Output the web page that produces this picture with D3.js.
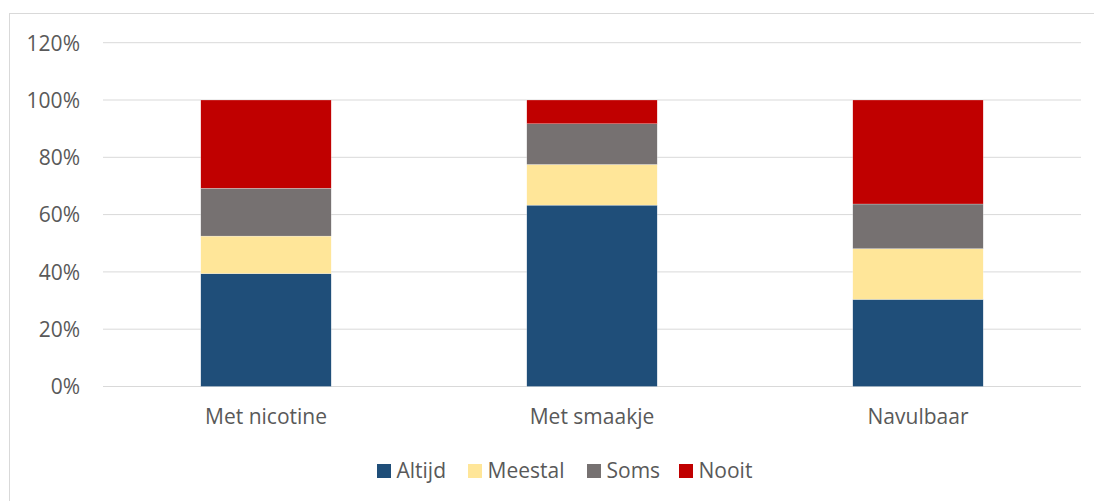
<!DOCTYPE html>
<html>
<head>
<meta charset="utf-8">
<script src="https://cdn.jsdelivr.net/npm/d3@7"></script>
<style>
  html, body { margin: 0; padding: 0; background: #fff; }
  svg { display: block; }
  text { font-family: "Open Sans", "Liberation Sans", sans-serif; fill: #595959; }
</style>
</head>
<body>
<svg id="chart" width="1094" height="501"></svg>
<script>
// Share of answers per product type (percent)
const categories = ["Met nicotine", "Met smaakje", "Navulbaar"];
const seriesNames = ["Altijd", "Meestal", "Soms", "Nooit"];
const altijd  = [39.4, 63.3, 30.4];
const meestal = [13.1, 14.2, 17.7];
const soms    = [16.7, 14.2, 15.6];
const nooit   = [30.8, 8.3, 36.3];
const yTicks = [0, 20, 40, 60, 80, 100, 120];
const colors = ["#1f4e79", "#ffe699", "#767171", "#c00000"];

const rows = categories.map((c, i) => ({
  category: c,
  Altijd: altijd[i], Meestal: meestal[i], Soms: soms[i], Nooit: nooit[i]
}));

const svg = d3.select("#chart");
const W = 1094, H = 501;
const plot = { left: 103, right: 1081, top: 42.7, bottom: 386.5 };
const FONT = 21;

// Chart frame (left and top edges visible)
svg.append("rect")
  .attr("x", 9.5).attr("y", 13.5)
  .attr("width", W + 10).attr("height", H + 10)
  .attr("fill", "none").attr("stroke", "#d9d9d9").attr("stroke-width", 1);

const x = d3.scaleBand().domain(categories).range([plot.left, plot.right]).paddingInner(0.6).paddingOuter(0.3);
const y = d3.scaleLinear().domain([0, 120]).range([plot.bottom, plot.top]);

// Horizontal gridlines
svg.append("g").selectAll("line").data(yTicks).join("line")
  .attr("x1", plot.left).attr("x2", plot.right)
  .attr("y1", d => y(d)).attr("y2", d => y(d))
  .attr("stroke", "#d9d9d9").attr("stroke-width", 1);

// Y axis labels
const yAxis = d3.axisLeft(y).tickValues(yTicks).tickFormat(d => d + "%").tickSize(0).tickPadding(0);
const yg = svg.append("g").attr("transform", `translate(80,0)`).call(yAxis);
yg.select(".domain").remove();
yg.attr("font-size", null).attr("font-family", null);
yg.selectAll("text").attr("font-size", FONT).attr("fill", "#595959").attr("dy", "0.35em");

// Stacked bars
const stack = d3.stack().keys(seriesNames);
const layers = stack(rows);
const color = d3.scaleOrdinal().domain(seriesNames).range(colors);

svg.append("g").selectAll("g").data(layers).join("g")
  .attr("fill", d => color(d.key))
  .selectAll("rect").data(d => d).join("rect")
  .attr("x", d => x(d.data.category))
  .attr("width", x.bandwidth())
  .attr("y", d => y(d[1]))
  .attr("height", d => y(d[0]) - y(d[1]))
  .attr("stroke", "#ffffff").attr("stroke-width", 0.4).attr("stroke-opacity", 0.6);

// Category labels
const xAxis = d3.axisBottom(x).tickSize(0).tickPadding(0);
const xg = svg.append("g").attr("transform", `translate(0,${plot.bottom + 23})`).call(xAxis);
xg.select(".domain").remove();
xg.attr("font-size", null).attr("font-family", null);
xg.selectAll("text").attr("font-size", FONT).attr("fill", "#595959");

// Legend
const legendX = [377, 468, 587, 679];
const legend = svg.append("g").selectAll("g").data(seriesNames).join("g")
  .attr("transform", (d, i) => `translate(${legendX[i]},464)`);
legend.append("rect").attr("width", 14).attr("height", 14).attr("y", 0)
  .attr("fill", d => color(d));
legend.append("text").attr("x", 19.5).attr("y", 14)
  .attr("font-size", FONT).text(d => d);
</script>
</body>
</html>
